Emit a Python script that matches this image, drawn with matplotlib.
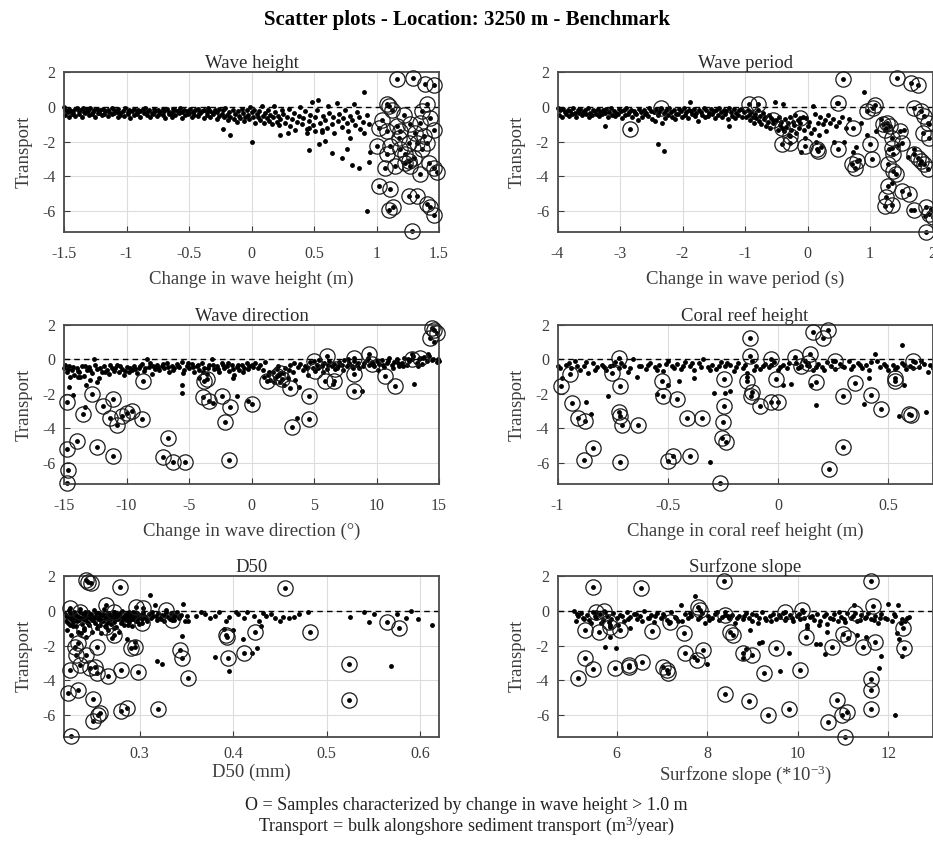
import numpy as np
import matplotlib
matplotlib.use("Agg")
import matplotlib.pyplot as plt

plt.rcParams['font.family'] = ['Liberation Serif', 'DejaVu Serif']
plt.rcParams['mathtext.fontset'] = 'custom'
plt.rcParams['mathtext.rm'] = 'Liberation Serif'
plt.rcParams['mathtext.it'] = 'Liberation Serif:italic'

# ---------------------------------------------------------------- data
# transport samples (x, transport) per driver; *_big are samples whose
# change in wave height exceeds 1.0 m (drawn with an open ring)

wh_dots = [
    (-1.50,-0.02),(-1.49,-0.15),(-1.47,-0.28),(-1.46,-0.10),(-1.44,-0.22),(-1.43,-0.35),(-1.41,-0.12),(-1.40,-0.05),
    (-1.38,-0.25),(-1.37,-0.18),(-1.35,-0.08),(-1.34,-0.30),(-1.32,-0.14),(-1.31,-0.22),(-1.29,-0.06),(-1.27,-0.27),
    (-1.26,-0.18),(-1.24,-0.11),(-1.22,-0.33),(-1.21,-0.20),(-1.19,-0.09),(-1.17,-0.24),(-1.15,-0.15),(-1.14,-0.30),
    (-1.12,-0.07),(-1.10,-0.19),(-1.08,-0.26),(-1.07,-0.12),(-1.05,-0.34),(-1.03,-0.21),(-1.01,-0.08),(-0.99,-0.29),
    (-0.98,-0.16),(-0.96,-0.23),(-0.94,-0.10),(-0.92,-0.31),(-0.91,-0.18),(-0.89,-0.25),(-0.87,-0.13),(-0.85,-0.06),
    (-0.84,-0.28),(-0.82,-0.20),(-0.80,-0.35),(-0.78,-0.11),(-0.77,-0.24),(-0.75,-0.17),(-0.73,-0.30),(-0.71,-0.09),
    (-0.70,-0.22),(-0.68,-0.14),(-0.66,-0.27),(-0.64,-0.33),(-0.63,-0.12),(-0.61,-0.19),(-0.59,-0.25),(-0.57,-0.08),
    (-0.56,-0.30),(-0.54,-0.16),(-0.52,-0.22),(-0.50,-0.36),(-0.49,-0.13),(-0.47,-0.27),(-0.45,-0.19),(-0.43,-0.10),
    (-0.42,-0.32),(-0.40,-0.24),(-0.38,-0.15),(-0.36,-0.29),(-0.35,-0.07),(-0.33,-0.21),(-0.31,-0.34),(-0.29,-0.18),
    (-0.28,-0.26),(-0.26,-0.12),
    (-1.49,-0.45),(-1.46,-0.55),(-1.44,-0.38),(-1.41,-0.50),(-1.38,-0.42),(-1.36,-0.60),(-1.33,-0.35),(-1.30,-0.48),
    (-1.28,-0.40),(-1.25,-0.55),(-1.23,-0.33),(-1.20,-0.45),(-1.18,-0.38),(-1.15,-0.52),(-1.12,-0.42),(-1.10,-0.36),
    (-1.07,-0.58),(-1.05,-0.44),(-1.02,-0.50),(-0.99,-0.38),(-0.97,-0.62),(-0.94,-0.46),(-0.92,-0.40),(-0.89,-0.55),
    (-0.86,-0.35),(-0.84,-0.48),(-0.81,-0.60),(-0.79,-0.42),(-0.76,-0.52),(-0.74,-0.38),(-0.71,-0.47),(-0.69,-0.65),
    (-0.66,-0.40),(-0.64,-0.55),(-0.61,-0.45),(-0.58,-0.36),(-0.56,-0.62),(-0.53,-0.48),(-0.51,-0.40),(-0.48,-0.58),
    (-0.46,-0.44),(-0.43,-0.52),(-0.41,-0.36),(-0.38,-0.64),(-0.36,-0.46),(-0.33,-0.55),(-0.31,-0.40),(-0.28,-0.68),
    (-0.26,-0.50),(-0.24,-0.42),
    (-0.23,-0.20),(-0.22,-0.60),(-0.21,-0.05),(-0.20,-0.45),(-0.19,-0.75),(-0.18,-0.30),(-0.17,-0.55),(-0.15,-0.15),
    (-0.14,-0.70),(-0.13,-0.40),(-0.12,-0.85),(-0.11,-0.25),(-0.10,-0.50),(-0.09,-0.65),(-0.08,-0.10),(-0.07,-0.35),
    (-0.06,-0.80),(-0.05,-0.55),(-0.04,-0.20),(-0.03,-0.45),(-0.02,-0.70),(-0.01,0.02),(0.00,-0.30),(0.01,-0.60),
    (0.02,-0.15),(0.03,-0.90),(0.04,-0.40),(0.05,-0.55),(0.06,-0.25),(0.07,-0.75),(0.08,0.05),(0.09,-0.50),
    (0.10,-0.95),(0.11,-0.35),(0.12,-0.65),(0.13,-0.20),(0.14,-0.80),(0.15,-0.45),(0.16,-1.00),(0.17,-0.60),
    (0.18,0.08),(0.19,-0.30),(0.20,-0.85),(0.21,-0.50),(0.22,-1.05),(0.23,-0.70),(0.24,-0.20),(0.25,-0.40),
    (0.27,-0.90),(0.28,-0.55),(0.30,-0.10),(0.31,-1.10),(0.32,-0.70),(0.34,-0.35),(0.35,-1.30),(0.36,-0.85),
    (0.38,-0.50),(0.39,0.00),(0.40,-1.00),(0.41,-0.65),(0.43,-0.25),(0.44,-1.25),(0.46,-0.80),(0.47,-0.45),
    (0.48,0.30),(0.49,-1.05),(0.51,-0.60),(0.52,-0.20),(0.53,0.38),(0.55,-0.90),(0.56,-1.45),(0.57,-0.50),
    (0.59,-0.75),(0.60,-1.20),(0.61,0.05),(0.62,-0.35),(0.64,-1.00),(0.65,-0.60),(0.66,-1.50),(0.68,0.25),
    (0.69,-0.80),(0.70,-0.40),(0.72,-1.15),(0.73,-0.65),(0.75,-0.20),(0.76,-0.95),(0.77,-1.40),(0.79,-0.50),
    (0.80,-0.75),(0.82,0.20),(0.83,-1.05),(0.84,-0.30),(0.86,-0.60),(0.87,-1.25),(0.89,-0.85),(0.90,-1.50),
    (0.92,-0.45),(0.94,-1.00),
    (-0.23,-1.26),(-0.17,-1.60),(0.00,-2.00),(0.23,-1.64),(0.29,-1.49),(0.46,-2.46),(0.54,-2.11),(0.59,-1.96),
    (0.64,-2.65),(0.72,-2.91),(0.76,-2.44),(0.79,-1.81),(0.80,-3.33),(0.86,-3.49),(0.94,-3.18),(0.95,-2.60),
    (0.90,0.84),(0.92,-6.00),(0.46,-1.20),(0.44,-1.49),(0.51,-1.39),(0.56,-1.30),
]
wh_big = [
    (1.16,1.62),(1.29,1.70),(1.39,1.31),(1.46,1.24),(1.08,0.17),(1.10,0.04),(1.12,-0.15),(1.40,0.17),
    (1.36,-0.25),(1.22,-0.44),(1.04,-0.72),(1.02,-1.20),(1.08,-1.39),(1.16,-1.10),(1.19,-1.39),(1.27,-1.00),
    (1.35,-0.91),(1.43,-0.63),(1.46,-1.30),(1.31,-1.49),(1.38,-1.68),(1.40,-2.06),(1.32,-2.06),(1.00,-2.25),
    (1.11,-2.25),(1.19,-2.44),(1.26,-2.06),(1.36,-2.44),(1.18,-1.77),(1.08,-2.72),(1.23,-2.72),(1.07,-3.49),
    (1.15,-3.39),(1.23,-3.20),(1.26,-3.10),(1.30,-2.91),(1.27,-3.39),(1.35,-3.87),(1.42,-3.20),(1.46,-3.49),
    (1.48,-3.77),(1.02,-4.53),(1.11,-4.72),(1.26,-5.10),(1.32,-5.10),(1.40,-5.58),(1.43,-5.77),(1.46,-6.25),
    (1.10,-5.96),(1.13,-5.77),(1.28,-7.14),
]

wp_dots = [
    (-4.00,-0.05),(-3.96,-0.20),(-3.92,-0.10),(-3.88,-0.30),(-3.84,-0.15),(-3.80,-0.25),(-3.76,-0.08),(-3.72,-0.32),
    (-3.68,-0.18),(-3.64,-0.12),(-3.60,-0.28),(-3.56,-0.20),(-3.52,-0.06),(-3.48,-0.35),(-3.44,-0.16),(-3.40,-0.24),
    (-3.36,-0.10),(-3.32,-0.30),(-3.28,-0.20),(-3.22,-0.14),(-3.18,-0.27),(-3.14,-0.05),(-3.10,-0.22),(-3.06,-0.33),
    (-3.02,-0.12),(-2.98,-0.25),(-2.94,-0.18),(-2.90,-0.08),(-2.86,-0.30),(-2.82,-0.15),(-2.78,-0.24),(-2.74,-0.40),
    (-2.70,-0.10),(-2.66,-0.28),(-2.62,-0.18),(-2.58,-0.35),(-2.54,-0.06),(-2.50,-0.22),(-2.46,-0.30),(-2.42,-0.14),
    (-2.38,-0.26),(-2.34,-0.10),(-2.30,-0.33),(-2.26,-0.20),(-2.22,-0.08),(-2.18,-0.28),(-2.14,-0.16),(-2.10,-0.38),
    (-2.06,-0.12),(-2.02,-0.25),(-1.98,-0.05),(-1.94,-0.30),(-1.90,-0.18),(-1.86,-0.22),(-1.82,-0.10),(-1.78,-0.34),
    (-1.74,-0.15),(-1.70,-0.27),(-1.66,-0.06),(-1.62,-0.20),(-1.58,-0.32),(-1.54,-0.12),(-1.50,-0.25),(-1.46,-0.18),
    (-1.42,-0.08),(-1.38,-0.30),(-1.34,-0.15),(-1.30,-0.22),(-1.26,-0.05),(-1.22,-0.28),(-1.18,-0.12),(-1.14,-0.35),
    (-1.10,-0.20),(-1.06,-0.10),(-1.02,-0.30),
    (-3.98,-0.45),(-3.93,-0.55),(-3.87,-0.38),(-3.82,-0.50),(-3.77,-0.42),(-3.71,-0.60),(-3.66,-0.35),(-3.61,-0.48),
    (-3.55,-0.40),(-3.50,-0.55),(-3.45,-0.45),(-3.39,-0.38),(-3.34,-0.52),(-3.29,-0.42),(-3.24,-0.36),(-3.19,-0.58),
    (-3.13,-0.44),(-3.08,-0.50),(-3.03,-0.38),(-2.97,-0.62),(-2.92,-0.46),(-2.87,-0.40),(-2.81,-0.55),(-2.76,-0.35),
    (-2.71,-0.75),(-2.65,-0.60),(-2.60,-0.42),(-2.55,-0.52),(-2.49,-0.68),(-2.44,-0.80),(-2.39,-0.47),(-2.33,-0.90),
    (-2.28,-0.62),(-2.23,-0.44),(-2.17,-0.55),(-2.12,-0.70),(-2.07,-0.40),(-2.01,-0.58),(-1.96,-0.46),(-1.91,-0.65),
    (-1.85,-0.38),(-1.80,-0.52),(-1.75,-0.80),(-1.69,-0.44),(-1.64,-0.60),(-1.59,-0.50),(-1.53,-0.40),(-1.48,-0.66),
    (-1.43,-0.48),(-1.37,-0.58),(-1.32,-0.42),(-1.27,-0.70),(-1.21,-0.50),(-1.16,-0.62),(-1.11,-0.45),(-1.05,-0.56),
    (-0.98,-0.60),(-0.96,-0.20),(-0.94,-0.45),(-0.92,-0.75),(-0.90,-0.30),(-0.88,-0.55),(-0.86,-0.90),(-0.84,-0.40),
    (-0.82,-0.65),(-0.80,-0.15),(-0.78,-0.80),(-0.76,-0.50),(-0.74,-1.00),(-0.72,-0.35),(-0.70,-0.70),(-0.68,-0.55),
    (-0.66,-1.10),(-0.64,-0.85),(-0.62,-0.45),(-0.60,-1.20),(-0.58,-0.65),(-0.55,-0.95),(-0.52,0.30),(-0.50,-0.75),
    (-0.48,-1.30),(-0.46,-0.55),(-0.44,-1.05),(-0.42,-0.85),(-0.40,0.20),(-0.38,-1.40),(-0.36,-0.70),(-0.34,-1.15),
    (-0.32,-0.95),(-0.30,-1.60),(-0.28,-0.60),(-0.26,-1.30),(-0.24,-0.85),(-0.22,-1.05),(-0.20,-0.45),(-0.18,-1.50),
    (-0.16,-0.75),(-0.14,-1.20),(-0.12,-0.95),(-0.10,-2.60),(-0.08,-0.55),(-0.06,-1.35),(-0.04,-1.80),(-0.02,-0.65),
    (0.00,-1.10),(0.03,-0.85),(0.05,-1.50),(0.08,0.05),(0.10,-1.25),(0.12,-0.40),(0.14,-2.00),(0.16,-0.90),
    (0.18,-1.60),(0.20,-0.60),(0.22,-2.30),(0.25,-1.00),(0.28,-0.75),(0.30,-1.40),(0.33,-0.45),(0.36,-0.95),
    (0.40,-0.70),(0.43,-2.00),(0.45,-1.10),(0.47,0.25),(0.50,-0.85),(0.55,-0.60),(0.58,-2.00),(0.62,-1.20),
    (0.66,-0.70),(0.72,-2.60),(0.78,-2.30),(0.82,-3.05),(0.85,-0.95),(0.90,0.85),(0.95,-1.60),(1.10,-1.40),
    (1.18,-0.70),(1.25,-1.20),(1.30,-2.40),(1.35,-4.40),(1.45,-2.20),(1.55,-1.30),(1.60,-2.90),(1.65,-5.95),
    (1.70,-2.40),(1.80,-3.30),(1.88,-6.30),(1.95,-1.00),(1.98,-5.90),
    (-3.24,-1.10),(-2.385,-2.15),(-2.29,-2.53),(-1.88,0.29),(-1.25,-1.10),
]
wp_big = [
    (-2.84,-1.24),(-2.35,-0.06),(-0.93,0.17),(-0.80,0.17),(-0.545,-0.72),(-0.41,-1.20),(-0.28,-1.68),(-0.41,-2.15),
    (-0.28,-2.06),(-0.12,-0.63),(-0.04,-2.25),(0.145,-2.44),(0.17,-2.53),(0.49,0.23),(0.49,-2.44),(0.56,1.62),
    (0.73,-1.20),(0.71,-3.30),(0.76,-3.49),(0.79,-3.10),(0.95,-0.25),(1.05,-0.06),(1.08,0.10),(1.00,-2.15),
    (1.03,-3.00),(1.21,-1.00),(1.27,-0.91),(1.24,-1.30),(1.32,-1.10),(1.48,-1.39),(1.35,-1.77),(1.51,-2.06),
    (1.35,-2.34),(1.37,-2.72),(1.29,-3.30),(1.37,-3.68),(1.42,-3.87),(1.29,-4.53),(1.51,-4.82),(1.62,-5.00),
    (1.26,-5.20),(1.24,-5.68),(1.35,-5.62),(1.43,1.70),(1.65,1.37),(1.76,1.24),(1.71,-0.06),(1.81,-0.25),
    (1.86,-0.53),(1.92,-0.91),(1.84,-1.49),(1.95,-1.77),(1.71,-2.72),(1.76,-2.91),(1.81,-3.10),(1.86,-3.30),
    (1.92,-3.58),(1.71,-5.96),(1.90,-5.77),(1.95,-6.15),(1.90,-7.20),(2.00,-6.34),
]

wd_dots = [
    (-15.0,-0.50),(-14.8,-0.75),(-14.6,-0.40),(-14.4,-0.60),(-14.2,-0.90),(-14.0,-0.50),(-13.8,-0.70),(-13.6,-0.35),
    (-13.4,-0.95),(-13.2,-0.60),(-13.0,-0.45),(-12.8,-0.80),(-12.6,0.05),(-12.4,-0.55),(-12.2,-1.10),(-12.0,-0.70),
    (-11.8,-0.40),(-11.6,-0.60),(-11.4,-0.85),(-11.2,-0.50),(-11.0,-0.65),(-10.8,-0.30),(-10.6,-0.75),(-10.4,-0.55),
    (-10.2,-0.90),(-10.0,-0.45),(-9.8,-0.70),(-9.6,-0.60),(-9.4,-0.35),(-9.2,-0.80),(-9.0,-0.50),(-8.8,-0.25),
    (-8.6,-0.65),(-8.4,0.05),(-8.2,-0.45),(-8.0,-0.85),
    (-14.9,-0.30),(-14.7,-0.55),(-14.5,-1.00),(-14.3,-0.45),(-13.9,-0.65),(-13.7,-1.00),(-13.3,-0.40),(-12.9,-0.60),
    (-12.5,-0.30),(-12.1,-0.50),(-11.7,-0.75),(-11.3,-0.30),(-10.9,-0.50),(-10.5,-0.40),(-10.1,-0.65),(-9.7,-0.50),
    (-9.3,-0.55),(-8.9,-0.40),(-8.5,-0.50),(-8.1,-0.20),(-7.9,-0.40),(-7.7,-0.55),
    (-14.57,-1.57),(-14.3,-2.05),(-13.24,-1.49),(-12.38,-1.28),(-13.9,-1.00),(-12.9,-1.20),(-13.3,-2.75),
    (-7.6,-0.30),(-7.4,-0.60),(-7.2,-0.40),(-7.0,-0.50),(-6.8,-0.20),(-6.6,-0.70),(-6.4,-0.35),(-6.2,-0.50),
    (-6.0,-0.25),(-5.8,-0.45),(-5.6,-0.15),(-5.4,-0.60),(-5.2,-0.35),(-5.0,-0.50),(-4.8,-0.25),(-4.6,-0.70),
    (-4.4,-0.40),(-4.2,-0.60),(-4.0,-0.20),(-3.8,-0.50),(-3.6,-0.85),(-3.4,-0.30),(-3.2,0.00),(-3.0,-0.55),
    (-2.8,-0.35),(-2.6,-0.70),(-2.4,-0.20),(-2.2,-0.50),(-2.0,-0.40),(-1.8,-0.65),(-1.6,-0.30),(-1.4,-0.90),
    (-1.2,-0.45),(-1.0,-0.60),(-0.8,-0.30),(-0.6,-0.50),(-0.4,-0.20),(-0.2,-0.40),(0.0,-0.30),
    (-7.5,-0.50),(-7.1,-0.25),(-6.7,-0.45),(-6.3,-0.60),(-5.9,-0.40),(-5.5,-0.80),(-5.1,-0.20),(-4.7,-0.45),
    (-4.3,-0.30),(-3.9,-0.70),(-3.5,-0.50),(-3.1,-0.30),(-2.7,-0.55),(-2.3,-0.30),(-1.9,-0.20),(-1.5,-0.55),
    (-1.1,-0.30),(-0.7,-0.70),(-0.3,-0.55),(0.1,-0.45),
    (-5.6,-1.50),(-5.6,-1.95),(-1.5,-1.10),(-1.2,-2.10),(-3.1,-2.50),(-4.2,-1.10),(-0.3,-2.40),
    (0.3,-0.20),(0.5,-0.50),(0.7,-0.30),(0.9,-0.60),(1.1,-0.15),(1.3,-0.90),(1.5,-1.20),(1.7,-0.70),
    (1.9,-1.10),(2.1,-0.40),(2.3,-1.30),(2.5,-0.80),(2.7,-0.50),(2.9,-1.05),(3.1,-0.30),(3.3,-0.70),
    (3.5,-1.20),(3.7,-0.45),(3.9,-0.25),(4.1,-0.60),(4.3,-0.35),(4.5,-0.90),(4.7,-0.15),(4.9,-0.50),
    (1.0,-1.00),(1.4,-0.70),(1.8,-1.30),(2.2,-0.90),(2.6,-1.50),(3.0,-0.60),(3.4,-0.20),(3.8,-1.60),
    (4.4,-0.50),(3.6,-3.40),(2.0,-0.55),
    (5.2,-0.30),(5.4,-0.05),(5.6,-0.40),(5.8,-0.20),(6.0,-0.55),(6.2,-0.10),(6.4,-0.35),(6.6,-0.25),
    (6.8,-0.50),(7.0,-0.15),(7.2,-0.30),(7.4,-0.05),(7.6,-0.40),(7.8,-0.20),(8.0,-0.35),(8.2,-0.10),
    (8.4,-0.30),(8.6,-0.50),(8.8,-1.80),(9.0,-0.20),(9.2,-0.05),(9.4,-0.30),(9.6,-0.15),(9.8,-0.40),
    (10.0,-0.10),(10.2,-0.25),(10.4,-0.05),(10.6,-0.45),(10.8,-0.20),(11.0,0.10),(11.2,-0.30),(11.4,-0.15),
    (11.6,0.05),(11.8,-0.40),(12.0,-0.20),(12.2,0.10),(12.4,-0.30),(12.6,-0.10),(12.8,0.30),(13.0,-1.40),
    (13.2,-0.20),(13.4,0.05),(13.6,-0.25),(13.8,0.15),(14.0,-0.10),(14.2,0.20),(14.4,-0.05),(14.6,1.00),
    (14.8,-0.15),(15.0,-0.10),
    (5.3,-0.50),(5.7,-0.70),(6.1,-0.30),(6.5,-1.40),(6.9,-0.35),(7.3,-0.60),(7.7,0.05),(8.1,-0.50),
    (8.5,-0.20),(8.9,-0.40),(9.3,0.10),(9.7,-0.25),(10.1,-0.60),(10.5,-0.30),(10.9,-0.10),(11.3,-0.50),
    (11.7,-0.20),(12.1,-0.40),(12.5,0.00),(12.9,0.20),(13.3,-0.35),(13.7,0.10),(14.1,0.30),(14.5,0.05),
    (14.9,0.00),
]
wd_big = [
    (-14.79,-2.49),(-14.79,-5.17),(-14.70,-6.38),(-14.79,-7.18),(-13.93,-4.73),(-13.45,-3.16),(-12.78,-2.01),(-12.38,-5.08),
    (-11.85,-2.68),(-11.10,-2.30),(-11.30,-3.41),(-11.05,-5.61),(-10.73,-3.79),(-10.38,-3.26),(-9.98,-3.10),(-9.58,-2.97),
    (-8.78,-3.45),(-8.65,-1.25),(-7.10,-5.65),(-6.65,-4.56),(-6.25,-5.94),(-5.31,-5.94),(-3.84,-1.25),(-3.58,-1.15),
    (-3.90,-2.20),(-3.44,-2.40),(-2.38,-2.10),(-1.71,-2.78),(-2.11,-3.60),(-1.84,-5.84),(0.03,-2.59),(1.23,-1.25),
    (2.03,-0.96),(2.30,-0.77),(2.43,-1.15),(3.10,-1.63),(3.23,-3.93),(4.56,-2.11),(4.56,-3.45),(4.96,-0.10),
    (5.10,-0.67),(5.90,-1.25),(6.03,0.23),(6.56,-1.25),(6.70,-0.57),(8.16,0.10),(8.16,-0.86),(8.22,-1.82),
    (9.37,0.29),(9.63,-0.29),(10.70,-0.96),(11.50,-1.53),(12.84,0.00),(13.50,0.10),(14.30,1.25),(14.57,1.72),
    (14.84,1.53),(14.44,1.82),
]

cr_dots = [
    (-1.00,-0.35),(-0.98,-1.05),(-0.96,-0.30),(-0.94,-0.50),(-0.92,-0.10),(-0.90,-0.60),(-0.88,-0.35),(-0.86,-0.80),
    (-0.84,-0.20),(-0.82,-0.45),(-0.80,-0.30),(-0.78,-0.60),(-0.76,-0.40),(-0.74,-0.15),(-0.72,-0.50),(-0.70,-0.35),
    (-0.68,-0.70),(-0.66,0.05),(-0.64,-1.00),(-0.62,-0.35),(-0.60,-0.55),(-0.58,-0.20),(-0.56,-0.45),(-0.54,-0.30),
    (-0.52,-0.65),(-0.50,-0.10),(-0.48,-0.40),(-0.46,-0.25),(-0.44,-0.55),(-0.42,-0.15),(-0.40,-0.35),(-0.38,-0.60),
    (-0.36,-0.20),(-0.34,0.05),(-0.32,-0.45),(-0.30,-0.30),(-0.28,-0.55),(-0.26,-0.15),(-0.24,-0.40),(-0.22,-0.30),
    (-0.20,-0.65),(-0.18,-0.20),(-0.16,-0.50),(-0.14,-0.80),(-0.12,-0.10),(-0.10,-0.35),(-0.08,-0.55),(-0.06,-0.25),
    (-0.04,-0.45),(-0.02,-0.15),(0.00,-0.60),(0.02,-0.30),(0.04,-0.50),(0.06,-1.40),(0.08,-0.20),(0.10,-0.45),
    (0.12,-0.10),(0.14,-0.35),(0.16,-0.60),(0.18,-0.25),(0.20,-0.45),(0.22,-0.15),(0.24,-0.35),(0.26,-0.55),
    (0.28,-0.25),(0.30,-0.45),(0.32,-0.10),(0.34,-0.35),(0.36,-0.20),(0.38,-0.50),(0.40,-0.30),(0.42,-0.15),
    (0.44,0.30),(0.46,-0.45),(0.48,-0.25),(0.50,-0.60),(0.52,-0.30),(0.54,-0.45),(0.56,-0.20),(0.58,-0.55),
    (0.60,-0.35),(0.62,-0.15),(0.64,-0.45),(0.66,-0.25),(0.68,-0.70),(0.70,-0.50),
    (-0.99,-0.50),(-0.95,-0.20),(-0.91,-0.35),(-0.87,-0.15),(-0.83,-0.60),(-0.79,-0.45),(-0.75,-0.30),(-0.71,-0.20),
    (-0.67,-0.50),(-0.63,-0.40),(-0.59,-0.30),(-0.55,-0.60),(-0.51,-0.25),(-0.47,-0.50),(-0.43,-0.35),(-0.39,-0.20),
    (-0.35,-0.45),(-0.31,-0.60),(-0.27,-0.35),(-0.23,-0.20),(-0.19,-0.45),(-0.15,-0.30),(-0.11,-0.60),(-0.07,-0.40),
    (-0.03,-0.30),(0.01,-0.45),(0.05,-0.20),(0.09,-0.50),(0.13,-0.30),(0.17,-0.45),(0.21,-0.60),(0.25,-0.10),
    (0.29,-0.35),(0.33,-0.55),(0.37,-0.30),(0.41,-0.60),(0.45,-0.10),(0.49,-0.40),(0.53,-0.55),(0.57,-0.30),
    (0.61,-0.50),(0.65,-0.10),(0.69,-0.30),
    (-0.87,-2.48),(-0.85,-3.14),(-0.77,-2.10),(-0.55,-2.00),(-0.50,-1.50),(-0.45,-1.25),(-0.31,-5.96),(-0.29,-1.95),
    (-0.24,-1.95),(-0.22,-1.80),(0.17,-2.65),(0.39,-2.57),(0.56,0.85),(0.57,-1.50),(0.55,-3.30),(0.67,-3.05),
    (-0.14,-1.00),(0.02,-1.50),(0.15,-1.50),(0.41,-1.10),(-0.38,-1.05),
]
cr_big = [
    (-0.985,-1.52),(-0.943,-0.86),(-0.935,-2.51),(-0.905,-3.39),(-0.875,-3.58),(-0.882,-5.81),(-0.840,-5.14),(-0.754,-0.76),
    (-0.720,0.10),(-0.716,-1.52),(-0.720,-3.05),(-0.716,-3.28),(-0.709,-3.81),(-0.716,-5.96),(-0.633,-3.81),(-0.528,-1.24),
    (-0.520,-2.10),(-0.460,-2.29),(-0.498,-5.87),(-0.475,-5.62),(-0.415,-3.39),(-0.400,-5.58),(-0.347,-3.39),(-0.264,-7.14),
    (-0.256,-4.57),(-0.249,-3.62),(-0.246,-2.72),(-0.246,-1.14),(-0.234,-4.76),(-0.128,1.24),(-0.128,0.23),(-0.140,-1.24),
    (-0.120,-1.90),(-0.125,-2.10),(-0.083,-2.72),(-0.030,0.04),(-0.010,-1.14),(-0.030,-2.48),(0.000,-2.44),(0.075,0.13),
    (0.105,-0.38),(0.143,0.29),(0.136,-0.19),(0.173,-1.30),(0.158,1.62),(0.204,1.24),(0.226,1.71),(0.256,-0.10),
    (0.229,-6.34),(0.294,-2.13),(0.294,-5.05),(0.347,-1.37),(0.422,-2.04),(0.468,-2.86),(0.528,-1.05),(0.532,-1.24),
    (0.593,-3.14),(0.603,-3.24),(0.611,-0.10),
]

d50_dots = [
    (0.220,-0.20),(0.221,-0.60),(0.222,-1.10),(0.223,-0.35),(0.224,0.05),(0.225,-0.80),(0.226,-0.50),(0.227,-1.40),
    (0.228,-0.25),(0.229,-0.65),(0.230,-0.10),(0.231,-0.45),(0.232,-0.90),(0.233,-0.30),(0.234,-1.20),(0.235,-0.55),
    (0.236,0.10),(0.237,-0.40),(0.238,-0.75),(0.239,-0.20),(0.240,-1.00),(0.241,-0.50),(0.242,-0.30),(0.243,-1.50),
    (0.244,-0.65),(0.245,-0.10),(0.246,-0.85),(0.247,-0.40),(0.248,-0.20),(0.249,-1.25),(0.250,-0.55),(0.251,0.05),
    (0.252,-0.70),(0.253,-0.35),(0.254,-1.00),(0.255,-0.50),(0.256,-0.15),(0.257,-0.80),(0.258,-0.45),(0.259,-1.30),
    (0.260,-0.25),(0.261,-0.60),(0.262,0.10),(0.263,-0.90),(0.264,-0.40),(0.265,-0.20),(0.266,-1.10),(0.267,-0.55),
    (0.268,-0.30),(0.269,-0.75),(0.270,-1.55),(0.271,-0.45),(0.272,-0.10),(0.273,-0.65),(0.274,-0.35),(0.275,-0.95),
    (0.276,-0.20),(0.277,-0.50),(0.278,-1.20),(0.279,-0.30),(0.280,-0.70),(0.281,0.00),(0.282,-0.45),(0.283,-0.85),
    (0.284,-0.25),(0.285,-0.55),(0.286,-1.60),(0.287,-0.35),(0.288,-0.10),(0.289,-0.65),(0.290,-0.40),(0.291,-0.20),
    (0.292,-0.90),(0.293,-0.50),(0.294,-0.30),(0.295,-1.80),(0.296,-0.60),(0.297,-0.15),(0.298,-0.40),(0.299,-0.75),
    (0.300,-0.25),(0.302,-0.50),(0.304,-0.10),(0.306,-0.35),(0.308,-0.60),(0.310,-0.20),(0.311,0.88),(0.312,-0.45),
    (0.314,-0.30),(0.316,0.30),(0.318,-0.55),(0.320,-0.15),(0.322,-0.40),(0.324,-0.25),(0.326,-0.60),(0.328,-0.10),
    (0.330,-0.35),(0.332,-0.50),(0.334,-0.20),(0.336,-0.40),(0.338,-0.30),(0.340,-0.10),(0.342,-0.45),(0.344,-0.25),
    (0.346,0.40),(0.348,-0.60),(0.350,-0.30),
    (0.221,-0.30),(0.223,-0.70),(0.225,-0.15),(0.227,-0.45),(0.229,-0.90),(0.231,-0.20),(0.233,-0.60),(0.235,-0.35),
    (0.237,-1.30),(0.239,-0.50),(0.241,-0.10),(0.243,-0.40),(0.245,-0.70),(0.247,-0.25),(0.249,-0.55),(0.251,-0.35),
    (0.253,-0.15),(0.255,-0.90),(0.257,-0.30),(0.259,-0.60),(0.261,-0.20),(0.263,-0.45),(0.265,-0.70),(0.267,-0.15),
    (0.269,-0.40),(0.271,-0.25),(0.273,-1.00),(0.275,-0.50),(0.277,-0.30),(0.279,-0.15),(0.281,-0.60),(0.283,-0.35),
    (0.285,-0.20),(0.287,-0.80),(0.289,-0.30),(0.291,-0.50),(0.293,-0.10),(0.295,-0.40),(0.297,-0.60),(0.299,-0.30),
    (0.303,-0.20),(0.307,-0.45),(0.313,-0.10),(0.317,-0.30),(0.323,-0.50),(0.327,-0.25),(0.333,-0.15),(0.337,-0.55),
    (0.343,-0.30),
    (0.345,-1.45),(0.318,-2.90),(0.324,-3.05),(0.352,-0.60),(0.360,-0.30),(0.365,-0.10),(0.370,-0.20),(0.375,-0.45),
    (0.380,-0.30),(0.385,-0.10),(0.390,-1.05),(0.392,-0.60),(0.395,-0.35),(0.380,-2.67),(0.395,-3.45),(0.400,-1.10),
    (0.403,-0.10),(0.405,-0.20),(0.410,-1.60),(0.412,-0.45),(0.415,-0.10),(0.420,-2.40),(0.422,-0.30),(0.425,-2.15),
    (0.428,-0.60),(0.430,-0.90),(0.432,-0.15),(0.435,-0.30),(0.440,-0.20),(0.445,-0.45),(0.450,-0.60),(0.453,-0.35),
    (0.460,-0.45),(0.465,-0.35),(0.470,-0.20),(0.480,-0.10),(0.525,-0.35),(0.540,-0.10),(0.545,-0.65),(0.550,-0.20),
    (0.569,-3.16),(0.575,-0.20),(0.585,-0.40),(0.590,-0.05),(0.598,-0.50),(0.612,-0.80),
]
d50_big = [
    (0.242,1.75),(0.245,1.66),(0.248,1.56),(0.279,1.37),(0.455,1.28),(0.225,0.13),(0.236,-0.06),(0.264,0.32),
    (0.273,-0.06),(0.296,0.23),(0.304,0.13),(0.328,0.04),(0.334,-0.53),(0.302,-0.72),(0.272,-1.39),(0.264,-0.91),
    (0.240,-1.10),(0.231,-2.06),(0.234,-1.87),(0.232,-2.53),(0.243,-2.53),(0.254,-2.06),(0.225,-3.39),(0.236,-3.10),
    (0.247,-3.30),(0.252,-3.20),(0.254,-3.58),(0.266,-3.77),(0.280,-3.39),(0.291,-2.15),(0.295,-2.06),(0.298,-3.49),
    (0.223,-4.72),(0.234,-4.53),(0.250,-5.07),(0.250,-6.34),(0.255,-5.96),(0.257,-5.87),(0.280,-5.77),(0.286,-5.58),
    (0.320,-5.64),(0.227,-7.20),(0.343,-2.25),(0.345,-2.72),(0.352,-3.87),(0.392,-1.39),(0.393,-1.49),(0.394,-2.72),
    (0.412,-2.44),(0.423,-1.20),(0.482,-1.20),(0.524,-3.05),(0.524,-5.14),(0.564,-0.63),(0.577,-1.01),
]

ss_dots = [
    (5.05,-0.05),(5.10,-0.60),(5.15,-0.30),(5.22,-0.15),(5.28,-0.50),(5.35,-0.25),(5.42,-0.70),(5.48,-0.10),
    (5.55,-0.40),(5.62,-0.20),(5.70,-0.55),(5.78,-0.30),(5.85,-0.80),(5.92,-0.15),(6.00,-0.45),(6.08,-0.25),
    (6.15,-0.60),(6.22,-0.10),(6.30,-0.35),(6.38,-0.20),(6.45,-0.50),(6.52,-0.30),(6.60,-0.05),(6.68,-0.45),
    (6.75,-0.25),(6.82,-0.65),(6.90,-0.15),(6.98,-0.40),(7.05,-0.30),(7.12,-0.55),(7.20,-0.10),(7.28,-0.35),
    (7.35,-0.60),(7.42,0.30),(7.50,-0.20),(7.58,-0.45),(7.65,-0.30),(7.72,0.84),(7.80,-0.50),(7.88,-0.15),
    (7.95,-0.70),(8.02,-0.30),(8.10,-0.45),(8.18,-0.20),(8.25,-0.55),(8.32,-0.35),(8.40,-0.10),(8.48,-0.45),
    (8.55,-0.25),(8.62,-0.70),(8.70,-0.30),(8.78,-0.50),(8.85,-0.15),(8.92,-0.40),(9.00,-0.60),(9.08,-0.25),
    (9.15,-0.45),(9.22,-0.10),(9.30,-0.55),(9.38,-0.30),(9.45,-0.20),(9.52,-0.50),(9.60,-0.35),(9.68,-0.15),
    (9.75,-0.45),(9.82,-0.25),(9.90,-0.60),(9.98,-0.30),(10.05,-0.50),(10.12,-0.10),(10.20,-0.85),(10.28,-0.35),
    (10.35,-0.55),(10.42,-0.20),(10.50,-0.60),(10.58,-0.30),(10.65,-0.75),(10.72,-0.45),(10.80,-0.20),(10.88,-0.60),
    (10.95,-0.35),(11.02,-0.50),(11.10,-0.15),(11.18,-0.40),(11.25,0.30),(11.32,-0.60),(11.40,-0.25),(11.48,-0.45),
    (11.55,-0.15),(11.62,-0.50),(11.70,-0.30),(11.78,-0.70),(11.85,-0.20),(11.92,-0.45),(12.00,0.40),(12.08,-0.60),
    (12.15,-0.30),(12.22,0.30),(12.30,-0.50),(12.38,-0.60),(12.45,-0.35),
    (5.12,-0.20),(5.25,-0.40),(5.38,-0.55),(5.52,-0.30),(5.65,-0.70),(5.75,-0.10),(5.88,-0.50),(6.02,-0.80),
    (6.12,-0.30),(6.25,-0.50),(6.42,-0.20),(6.55,-0.60),(6.72,-0.40),(6.85,-0.30),(7.02,-0.20),(7.15,-0.70),
    (7.32,-0.40),(7.45,-0.60),(7.62,-0.15),(7.85,-0.35),(8.05,-0.55),(8.22,-0.10),(8.45,-0.30),(8.65,-0.40),
    (8.82,-0.30),(8.98,-0.20),(9.12,-0.70),(9.28,-0.40),(9.42,-0.60),(9.58,-0.25),(9.72,-0.55),(9.88,-0.40),
    (10.02,-0.20),(10.15,-0.45),(10.32,-0.30),(10.48,-0.80),(10.62,-0.20),(10.78,-0.50),(10.92,-0.10),(11.05,-0.65),
    (11.22,-0.30),(11.38,-0.55),(11.52,-0.35),(11.68,-0.55),(11.82,-0.40),(11.98,-0.50),(12.12,-0.20),(12.28,-0.70),
    (12.42,-0.45),
    (5.74,-2.07),(5.99,-2.16),(5.85,-1.50),(6.30,-1.00),(8.00,-3.03),(8.80,-2.70),(8.85,-2.20),(9.15,-1.85),
    (9.22,-1.80),(9.61,-3.47),(9.80,-2.40),(10.20,-1.00),(10.40,-1.90),(10.50,-1.90),(10.60,-2.50),(10.65,-1.20),
    (11.30,-1.40),(11.50,-1.50),(11.80,-3.30),(11.85,-2.60),(12.16,-6.00),(12.25,-1.60),(12.30,-2.60),(12.20,-1.30),
    (8.95,-1.10),(7.70,-2.65),
]
ss_big = [
    (5.15,-3.83),(5.29,-1.11),(5.30,-2.74),(5.47,-3.37),(5.47,1.38),(5.54,-0.06),(5.60,-1.21),(5.72,0.00),
    (5.82,-0.63),(5.85,-0.92),(5.96,-3.31),(6.07,-1.11),(6.26,-3.12),(6.28,-3.22),(6.54,1.28),(6.55,-2.93),
    (6.77,-1.15),(7.03,-3.22),(7.10,-3.41),(7.14,-3.56),(7.18,-0.63),(7.49,-1.26),(7.51,-2.45),(7.77,-2.84),
    (7.80,0.23),(7.84,0.04),(7.91,-2.26),(8.37,1.72),(8.39,-0.25),(8.39,-4.75),(8.50,-1.21),(8.58,-1.40),
    (8.80,-2.45),(9.00,-2.55),(8.93,-5.17),(9.25,-3.60),(9.35,-6.00),(9.53,-2.16),(9.72,-0.06),(9.80,-5.61),
    (10.09,0.04),(10.04,-3.41),(10.18,-1.49),(10.68,-6.38),(10.75,-2.07),(10.86,-5.13),(10.97,-6.00),(11.00,-1.36),
    (11.08,-5.80),(11.05,-7.24),(11.12,-1.59),(11.27,-0.15),(11.45,-2.07),(11.63,1.67),(11.67,0.27),(11.71,-1.78),
    (11.63,-3.89),(11.63,-4.56),(11.63,-5.61),(12.32,-1.02),(12.35,-2.16),
]

panel_titles = ["Wave height", "Wave period", "Wave direction",
                "Coral reef height", "D50", "Surfzone slope"]
x_labels = ["Change in wave height (m)", "Change in wave period (s)",
            "Change in wave direction (°)", "Change in coral reef height (m)",
            "D50 (mm)", r"Surfzone slope (*10$^{-3}$)"]
x_limits = [(-1.5, 1.5), (-4, 2), (-15, 15), (-1, 0.7), (0.219, 0.62), (4.69, 12.98)]
x_ticks = [[-1.5, -1, -0.5, 0, 0.5, 1, 1.5], [-4, -3, -2, -1, 0, 1, 2],
           [-15, -10, -5, 0, 5, 10, 15], [-1, -0.5, 0, 0.5],
           [0.3, 0.4, 0.5, 0.6], [6, 8, 10, 12]]
x_ticklabels = [["-1.5", "-1", "-0.5", "0", "0.5", "1", "1.5"],
                ["-4", "-3", "-2", "-1", "0", "1", "2"],
                ["-15", "-10", "-5", "0", "5", "10", "15"],
                ["-1", "-0.5", "0", "0.5"],
                ["0.3", "0.4", "0.5", "0.6"],
                ["6", "8", "10", "12"]]
y_ticks = [2, 0, -2, -4, -6]
y_ticklabels = ["2", "0", "-2", "-4", "-6"]
y_limits = (-7.22, 2)

all_dots = [wh_dots, wp_dots, wd_dots, cr_dots, d50_dots, ss_dots]
all_big = [wh_big, wp_big, wd_big, cr_big, d50_big, ss_big]

# ---------------------------------------------------------------- figure
W, H = 933, 844
fig = plt.figure(figsize=(W / 100, H / 100), dpi=100)

col_left = [64, 557.5]
ax_w = 375
row_top = [72.3, 325, 575.7]
ax_h = [160, 159, 161]
tick_pad = [10, 10, 7]
label_pad = [6, 6, 1]

ink = "#3c3c3c"
for i in range(6):
    r, c = divmod(i, 2)
    left = col_left[c] / W
    bottom = 1 - (row_top[r] + ax_h[r]) / H
    ax = fig.add_axes([left, bottom, ax_w / W, ax_h[r] / H])

    dots = np.array(all_dots[i])
    big = np.array(all_big[i])

    ax.grid(True, color="#dcdcdc", lw=0.8, zorder=0)
    ax.set_axisbelow(True)
    ax.axhline(0, color="black", lw=1.0, ls=(0, (4, 3)), zorder=1)
    ax.plot(dots[:, 0], dots[:, 1], ls="none", marker="o", ms=3.5,
            mfc="black", mec="black", mew=0, zorder=2, clip_on=False)
    ax.plot(big[:, 0], big[:, 1], ls="none", marker="o", ms=3.5,
            mfc="black", mec="black", mew=0, zorder=2, clip_on=False)
    ax.plot(big[:, 0], big[:, 1], ls="none", marker="o", ms=11,
            mfc="none", mec="#1a1a1a", mew=0.9, zorder=3, clip_on=False)

    ax.set_xlim(*x_limits[i])
    ax.set_ylim(*y_limits)
    ax.set_xticks(x_ticks[i])
    ax.set_xticklabels(x_ticklabels[i])
    ax.set_yticks(y_ticks)
    ax.set_yticklabels(y_ticklabels)
    ax.tick_params(direction="in", length=4, width=0.8, colors=ink,
                   labelsize=11.5)
    ax.tick_params(axis="x", pad=tick_pad[r])
    ax.tick_params(axis="y", pad=6)
    for s in ax.spines.values():
        s.set_color("#4a4a4a")
        s.set_linewidth(1.3)
    ax.set_title(panel_titles[i], fontsize=13.5, color="#2a2a2a", pad=3)
    ax.set_xlabel(x_labels[i], fontsize=13.5, color=ink, labelpad=label_pad[r])
    ax.set_ylabel("Transport", fontsize=13.5, color=ink, labelpad=7)

fig.text(0.5, 1 - 20 / H, "Scatter plots - Location: 3250 m - Benchmark",
         ha="center", va="center", fontsize=15, fontweight="bold", color="black")
fig.text(0.5, 1 - 806 / H,
         "O = Samples characterized by change in wave height > 1.0 m",
         ha="center", va="center", fontsize=13, color="#222222")
fig.text(0.5, 1 - 826 / H,
         r"Transport = bulk alongshore sediment transport (m$^3$/year)",
         ha="center", va="center", fontsize=13, color="#222222")

fig.savefig("out.png", dpi=100)
